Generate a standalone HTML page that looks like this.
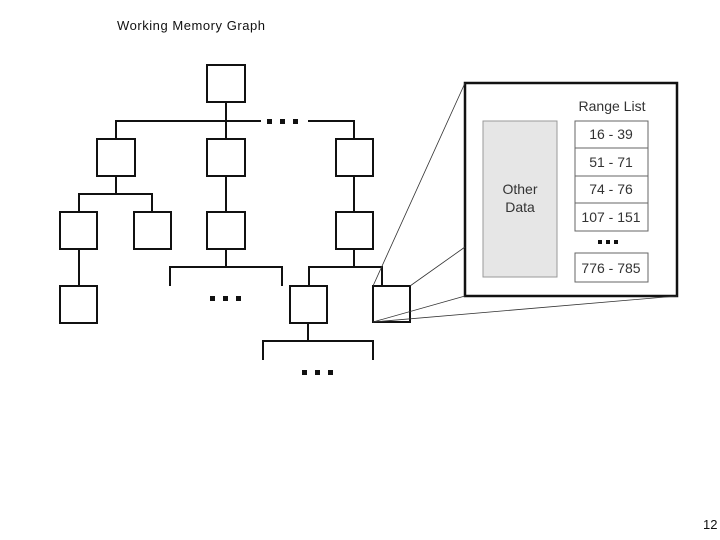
<!DOCTYPE html>
<html><head><style>body{margin:0;background:#fff}</style></head><body>
<svg width="720" height="540" xmlns="http://www.w3.org/2000/svg" style="display:block;font-family:'Liberation Sans',sans-serif">
<rect width="720" height="540" fill="#fff"/>
<text x="117" y="30" font-size="13" fill="#111" textLength="148">Working Memory Graph</text>
<text x="703" y="529" font-size="13" fill="#111">12</text>
<g fill="none" stroke="#111" stroke-width="2">
<rect x="207" y="65" width="38" height="37"/>
<rect x="97" y="139" width="38" height="37"/>
<rect x="207" y="139" width="38" height="37"/>
<rect x="336" y="139" width="37" height="37"/>
<rect x="60" y="212" width="37" height="37"/>
<rect x="134" y="212" width="37" height="37"/>
<rect x="207" y="212" width="38" height="37"/>
<rect x="336" y="212" width="37" height="37"/>
<rect x="60" y="286" width="37" height="37"/>
<rect x="290" y="286" width="37" height="37"/>
<rect x="373" y="286" width="37" height="36"/>
<path d="M226 102V139M116 139V121H261M308 121H354V139M116 176V194M79 212V194H152V212M226 176V212M354 176V212M79 249V286M226 249V267M170 286V267H282V286M354 249V267M309 286V267H382V286M308 323V341M263 360V341H373V360"/>
<rect x="465" y="83" width="212" height="213" stroke-width="2.5"/>
</g>
<g fill="#111">
<rect x="267" y="119" width="5" height="5"/><rect x="280" y="119" width="5" height="5"/><rect x="293" y="119" width="5" height="5"/>
<rect x="210" y="296" width="5" height="5"/><rect x="223" y="296" width="5" height="5"/><rect x="236" y="296" width="5" height="5"/>
<rect x="302" y="370" width="5" height="5"/><rect x="315" y="370" width="5" height="5"/><rect x="328" y="370" width="5" height="5"/>
<rect x="598" y="240" width="4" height="4"/><rect x="606" y="240" width="4" height="4"/><rect x="614" y="240" width="4" height="4"/>
</g>
<g stroke="#333" stroke-width="0.8" fill="none">
<path d="M373 286L465 83M410 286L465 247M373 322L465 296M373 322L677 296"/>
</g>
<rect x="483" y="121" width="74" height="156" fill="#e6e6e6" stroke="#999" stroke-width="1"/>
<text x="520" y="194" font-size="14" text-anchor="middle" fill="#333">Other</text>
<text x="520" y="212" font-size="14" text-anchor="middle" fill="#333">Data</text>
<text x="612" y="111" font-size="14" text-anchor="middle" fill="#333">Range List</text>
<g fill="#fff" stroke="#666" stroke-width="1">
<rect x="575" y="121" width="73" height="27"/>
<rect x="575" y="148" width="73" height="28"/>
<rect x="575" y="176" width="73" height="27"/>
<rect x="575" y="203" width="73" height="28"/>
<rect x="575" y="253" width="73" height="29"/>
</g>
<g font-size="14" text-anchor="middle" fill="#333">
<text x="611" y="139">16 - 39</text>
<text x="611" y="167">51 - 71</text>
<text x="611" y="194">74 - 76</text>
<text x="611" y="222">107 - 151</text>
<text x="611" y="273">776 - 785</text>
</g>
</svg>
</body></html>
